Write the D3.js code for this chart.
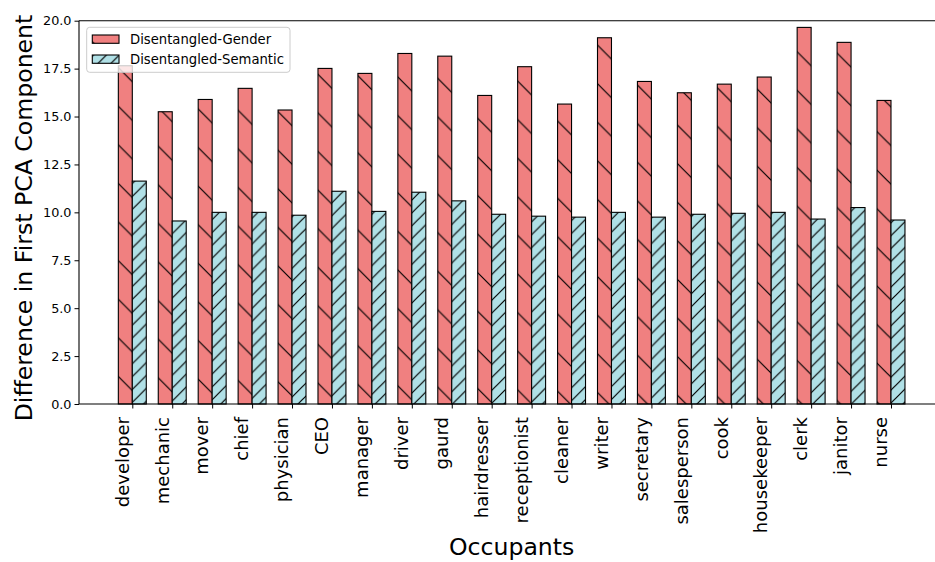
<!DOCTYPE html>
<html>
<head>
<meta charset="utf-8">
<script src="https://cdn.jsdelivr.net/npm/d3@7"></script>
<style>
  html, body { margin: 0; padding: 0; background: #fff; }
  svg { display: block; font-family: "DejaVu Sans", sans-serif; }
</style>
</head>
<body>
<svg id="chart" width="935" height="562"></svg>
<script>
// Occupation words and the two disentangled representations
const occupations = ["developer", "mechanic", "mover", "chief", "physician", "CEO", "manager",
  "driver", "gaurd", "hairdresser", "receptionist", "cleaner", "writer", "secretary",
  "salesperson", "cook", "housekeeper", "clerk", "janitor", "nurse"];
const genderValues = [17.65, 15.25, 15.89, 16.47, 15.34, 17.51, 17.25, 18.29, 18.15, 16.10,
  17.60, 15.65, 19.11, 16.83, 16.24, 16.69, 17.06, 19.65, 18.87, 15.84];
const semanticValues = [11.63, 9.55, 10.00, 10.00, 9.85, 11.10, 10.05, 11.05, 10.60, 9.90,
  9.80, 9.75, 10.00, 9.75, 9.90, 9.95, 10.00, 9.65, 10.25, 9.60];
const seriesNames = ["Disentangled-Gender", "Disentangled-Semantic"];
const yTicks = [0, 2.5, 5, 7.5, 10, 12.5, 15, 17.5, 20];

const svg = d3.select("#chart");
const barWidth = 0.35;

const x = d3.scaleLinear().domain([-1.335, 20.335]).range([79.0, 944.3]);
const y = d3.scaleLinear().domain([0, 20]).range([404, 20.7]);

// Hatch patterns anchored in page space so stripes run continuously across bars
const defs = svg.append("defs");
function hatch(id, size, dir, tx, ty) {
  const p = defs.append("pattern")
    .attr("id", id)
    .attr("patternUnits", "userSpaceOnUse")
    .attr("width", size).attr("height", size)
    .attr("patternTransform", `translate(${tx},${ty})`);
  const d = dir === "back"
    ? `M0,0 L${size},${size} M${-2},${size - 2} L2,${size + 2} M${size - 2},-2 L${size + 2},2`
    : `M0,${size} L${size},0 M-2,2 L2,-2 M${size - 2},${size + 2} L${size + 2},${size - 2}`;
  p.append("path").attr("d", d).attr("stroke", "#000").attr("stroke-width", 1.2).attr("fill", "none");
}
hatch("hatchGender", 38.6, "back", 0, 26.6);
hatch("hatchSemantic", 12.87, "fwd", 7, 0);

const colors = ["#F08080", "#B0E0E6"];
const patterns = ["url(#hatchGender)", "url(#hatchSemantic)"];
const series = [genderValues, semanticValues];
const offsets = [-barWidth, 0];

series.forEach((vals, s) => {
  const g = svg.append("g");
  const bars = g.selectAll("g.bar").data(vals).enter().append("g").attr("class", "bar");
  const bx = (d, i) => x(i + offsets[s]);
  const bw = x(barWidth) - x(0);
  bars.append("rect")
    .attr("x", bx).attr("y", d => y(d))
    .attr("width", bw).attr("height", d => y(0) - y(d))
    .attr("fill", colors[s]);
  bars.append("rect")
    .attr("x", bx).attr("y", d => y(d))
    .attr("width", bw).attr("height", d => y(0) - y(d))
    .attr("fill", patterns[s])
    .attr("stroke", "#000").attr("stroke-width", 1.1);
});

// Axes
const yAxis = d3.axisLeft(y).tickValues(yTicks).tickFormat(d3.format(".1f")).tickSize(4.5).tickPadding(3);
const gy = svg.append("g").attr("transform", `translate(${x.range()[0]},0)`).call(yAxis);
gy.select(".domain").remove();
gy.selectAll(".tick line").attr("stroke", "#000").attr("stroke-width", 1);
gy.selectAll(".tick text").attr("font-size", "12.8px").attr("fill", "#000")
  .attr("font-family", "DejaVu Sans, sans-serif");

const xAxis = d3.axisBottom(x).tickValues(d3.range(occupations.length))
  .tickFormat(i => occupations[i]).tickSize(4.5);
const gx = svg.append("g").attr("transform", `translate(0,${y(0)})`).call(xAxis);
gx.select(".domain").remove();
gx.selectAll(".tick line").attr("stroke", "#000").attr("stroke-width", 1);
gx.selectAll(".tick text")
  .attr("font-size", "18px").attr("fill", "#000")
  .attr("font-family", "DejaVu Sans, sans-serif")
  .attr("text-anchor", "end")
  .attr("transform", "translate(0,13) rotate(-90)")
  .attr("x", 0).attr("y", 0).attr("dy", "-0.236em");

// Spines (left, top, bottom)
const [x0, x1] = x.range();
svg.append("line").attr("x1", x0).attr("x2", x0).attr("y1", y(20)).attr("y2", y(0))
  .attr("stroke", "#000").attr("stroke-width", 1.1);
svg.append("line").attr("x1", x0).attr("x2", x1).attr("y1", y(20)).attr("y2", y(20))
  .attr("stroke", "#000").attr("stroke-width", 1.1);
svg.append("line").attr("x1", x0).attr("x2", x1).attr("y1", y(0)).attr("y2", y(0))
  .attr("stroke", "#000").attr("stroke-width", 1.1);

// Axis titles
svg.append("text").attr("x", (x0 + x1) / 2).attr("y", 555)
  .attr("text-anchor", "middle").attr("font-size", "23.6px").attr("fill", "#000")
  .text("Occupants");
svg.append("text").attr("transform", "translate(32,218) rotate(-90)")
  .attr("text-anchor", "middle").attr("font-size", "23.6px").attr("fill", "#000")
  .text("Difference in First PCA Component");

// Legend
const lg = svg.append("g");
lg.append("rect").attr("x", 86.7).attr("y", 27.3).attr("width", 203.3).attr("height", 45)
  .attr("rx", 3).attr("fill", "#fff").attr("fill-opacity", 0.8)
  .attr("stroke", "#ccc").attr("stroke-width", 1);
seriesNames.forEach((name, s) => {
  const py = 35 + s * 20;
  lg.append("rect").attr("x", 92.3).attr("y", py).attr("width", 26.7).attr("height", 8.3)
    .attr("fill", colors[s]);
  lg.append("rect").attr("x", 92.3).attr("y", py).attr("width", 26.7).attr("height", 8.3)
    .attr("fill", patterns[s]).attr("stroke", "#000").attr("stroke-width", 1.1);
  lg.append("text").attr("x", 130).attr("y", py + 4.15).attr("dy", "0.36em")
    .attr("font-size", "13.2px").attr("fill", "#000").text(name);
});
</script>
</body>
</html>
